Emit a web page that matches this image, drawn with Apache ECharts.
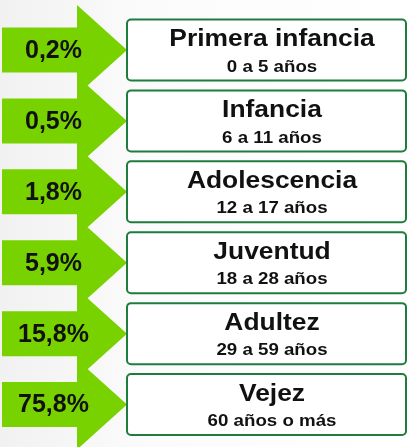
<!DOCTYPE html>
<html>
<head>
<meta charset="utf-8">
<script src="https://cdn.jsdelivr.net/npm/echarts@6/dist/echarts.min.js"></script>
<style>
html,body{margin:0;padding:0;background:#fff;}
#chart{width:408px;height:447px;}
</style>
</head>
<body>
<div id="chart"></div>
<script>
const groups = ['Primera infancia', 'Infancia', 'Adolescencia', 'Juventud', 'Adultez', 'Vejez'];
const ranges = ['0 a 5 años', '6 a 11 años', '12 a 17 años', '18 a 28 años', '29 a 59 años', '60 años o más'];
const percentages = [0.2, 0.5, 1.8, 5.9, 15.8, 75.8];

const FONT = "'Liberation Sans', Arial, sans-serif";
const chart = echarts.init(document.getElementById('chart'), null, {renderer: 'canvas'});

function fmt(v) { return v.toFixed(1).replace('.', ',') + '%'; }

const seriesData = percentages.map((v, i) => [v, i]);

chart.setOption({
  backgroundColor: {
    type: 'linear', x: 0, y: 0, x2: 1, y2: 0,
    colorStops: [{offset: 0, color: '#f1f1f1'}, {offset: 0.35, color: '#fbfbfb'}, {offset: 1, color: '#ffffff'}]
  },
  animation: false,
  grid: {left: 0, right: 0, top: 14.5, bottom: 7},
  xAxis: {type: 'value', min: 0, max: 408, show: false},
  yAxis: {type: 'category', data: groups, inverse: true, show: false},
  series: [{
    type: 'custom',
    data: seriesData,
    renderItem: function (params, api) {
      const idx = api.value(1);
      const c = api.coord([0, idx]);
      const cy = c[1];
      const x0 = api.coord([2, idx])[0];
      const xh = api.coord([77, idx])[0];
      const xt = api.coord([127, idx])[0];
      const xr = api.coord([406, idx])[0];
      const bodyH = 22.5, headH = 45;
      const boxHalf = 30.5;
      const textX = api.coord([272, idx])[0];
      return {
        type: 'group',
        children: [
          {
            type: 'polygon',
            shape: {points: [
              [x0, cy - bodyH], [xh, cy - bodyH], [xh, cy - headH], [xt, cy],
              [xh, cy + headH], [xh, cy + bodyH], [x0, cy + bodyH]
            ]},
            style: {fill: '#78d200'}
          },
          {
            type: 'text',
            style: {
              text: fmt(api.value(0)), x: (x0 + xh) / 2 + 14, y: cy + 1,
              fill: '#111', font: 'bold 25px ' + FONT,
              align: 'center', verticalAlign: 'middle', textAlign: 'center', textVerticalAlign: 'middle'
            }
          },
          {
            type: 'rect',
            shape: {x: xt, y: cy - boxHalf, width: xr - xt, height: boxHalf * 2, r: 4},
            style: {fill: '#ffffff', stroke: '#1e7d3c', lineWidth: 2}
          },
          {
            type: 'text',
            x: textX, y: cy - 10.5, scaleX: 1.1,
            style: {
              text: groups[idx], x: 0, y: 0,
              fill: '#111', font: 'bold 24px ' + FONT,
              align: 'center', verticalAlign: 'middle', textAlign: 'center', textVerticalAlign: 'middle'
            }
          },
          {
            type: 'text',
            x: textX, y: cy + 17, scaleX: 1.1,
            style: {
              text: ranges[idx], x: 0, y: 0,
              fill: '#111', font: 'bold 17px ' + FONT,
              align: 'center', verticalAlign: 'middle', textAlign: 'center', textVerticalAlign: 'middle'
            }
          }
        ]
      };
    }
  }]
});
</script>
</body>
</html>
